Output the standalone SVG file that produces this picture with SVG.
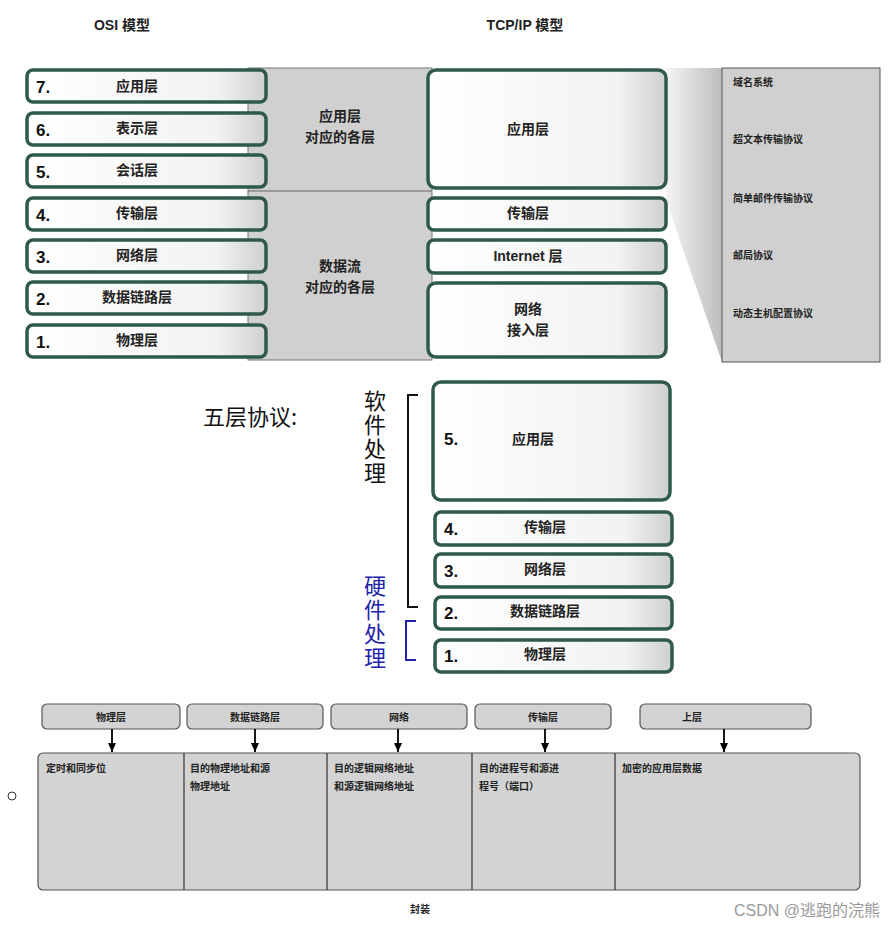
<svg xmlns="http://www.w3.org/2000/svg" width="895" height="927" viewBox="0 0 895 927">
<defs>
<linearGradient id="bg" x1="0" y1="0" x2="1" y2="0"><stop offset="0" stop-color="#ffffff"/><stop offset="0.8" stop-color="#f2f2f2"/><stop offset="1" stop-color="#cfcfcf"/></linearGradient>
<linearGradient id="wedge" x1="0" y1="0" x2="1" y2="0"><stop offset="0" stop-color="#f4f4f4"/><stop offset="1" stop-color="#bdbdbd"/></linearGradient>
<marker id="ar" markerWidth="10" markerHeight="10" refX="9" refY="4" orient="auto" markerUnits="userSpaceOnUse"><path d="M0,0 L9,4 L0,8 z" fill="#000"/></marker>
</defs>
<style>
.l{fill:url(#bg);stroke:#2f5a4a;stroke-width:3.5}
.t{font-family:"Liberation Sans","Noto Sans CJK SC",sans-serif;font-size:14px;font-weight:bold;fill:#222}
.s{font-family:"Liberation Sans","Noto Sans CJK SC",sans-serif;font-size:10px;font-weight:bold;fill:#222}
.n{font-family:"Liberation Sans",sans-serif;font-size:17px;font-weight:bold;fill:#111}
.g{fill:#d3d3d3;stroke:#555;stroke-width:1.2}
.c{text-anchor:middle}
.v{font-family:"Noto Sans CJK SC",sans-serif;font-size:22px;writing-mode:vertical-rl;letter-spacing:2px}
</style>
<rect width="895" height="927" fill="#fff"/>
<text class="t c" x="122" y="30">OSI 模型</text>
<text class="t c" x="525" y="30">TCP/IP 模型</text>
<g id="midpanel">
<rect x="248" y="68" width="184" height="292" fill="#d0d0d0" stroke="#777"/>
<line x1="248" y1="191" x2="432" y2="191" stroke="#666"/>
<text class="t c" x="340" y="121">应用层</text><text class="t c" x="340" y="142">对应的各层</text>
<text class="t c" x="340" y="271">数据流</text><text class="t c" x="340" y="292">对应的各层</text>
</g>
<g id="osi">
<rect class="l" x="27" y="70" width="239" height="32" rx="6"/><text class="n" x="36" y="93">7.</text><text class="t c" x="137" y="91">应用层</text>
<rect class="l" x="27" y="113" width="239" height="32" rx="6"/><text class="n" x="36" y="136">6.</text><text class="t c" x="137" y="133">表示层</text>
<rect class="l" x="27" y="155" width="239" height="32" rx="6"/><text class="n" x="36" y="178">5.</text><text class="t c" x="137" y="175">会话层</text>
<rect class="l" x="27" y="198" width="239" height="32" rx="6"/><text class="n" x="36" y="221">4.</text><text class="t c" x="137" y="218">传输层</text>
<rect class="l" x="27" y="240" width="239" height="32" rx="6"/><text class="n" x="36" y="263">3.</text><text class="t c" x="137" y="260">网络层</text>
<rect class="l" x="27" y="282" width="239" height="32" rx="6"/><text class="n" x="36" y="305">2.</text><text class="t c" x="137" y="302">数据链路层</text>
<rect class="l" x="27" y="325" width="239" height="32" rx="6"/><text class="n" x="36" y="348">1.</text><text class="t c" x="137" y="345">物理层</text>
</g>
<g id="wedge"><polygon points="666,68 722,68 722,362 666,200" fill="url(#wedge)"/></g>
<g id="tcp">
<rect class="l" x="428" y="70" width="238" height="118" rx="8"/><text class="t c" x="528" y="134">应用层</text>
<rect class="l" x="428" y="198" width="238" height="32" rx="6"/><text class="t c" x="528" y="218">传输层</text>
<rect class="l" x="428" y="240" width="238" height="33" rx="6"/><text class="t c" x="528" y="261">Internet 层</text>
<rect class="l" x="428" y="283" width="238" height="74" rx="8"/><text class="t c" x="528" y="314">网络</text><text class="t c" x="528" y="335">接入层</text>
</g>
<g id="protocols">
<rect x="722" y="68" width="158" height="294" fill="#d0d0d0" stroke="#555"/>
<text class="s" x="733" y="86">域名系统</text>
<text class="s" x="733" y="143">超文本传输协议</text>
<text class="s" x="733" y="202">简单邮件传输协议</text>
<text class="s" x="733" y="259">邮局协议</text>
<text class="s" x="733" y="317">动态主机配置协议</text>
</g>
<g id="five">
<text x="203" y="425" font-family="Noto Sans CJK SC,sans-serif" font-size="22" fill="#111">五层协议:</text>
<text class="v" x="375" y="390" fill="#111">软件处理</text>
<path d="M418,395 H408 V607 H418" fill="none" stroke="#111" stroke-width="2"/>
<text class="v" x="375" y="575" fill="#2222aa">硬件处理</text>
<path d="M416,621 H406 V660 H416" fill="none" stroke="#2222aa" stroke-width="2"/>
<rect class="l" x="433" y="382" width="237" height="118" rx="8"/><text class="n" x="444" y="445">5.</text><text class="t c" x="533" y="444">应用层</text>
<rect class="l" x="435" y="512" width="237" height="33" rx="6"/><text class="n" x="444" y="535">4.</text><text class="t c" x="545" y="532">传输层</text>
<rect class="l" x="435" y="554" width="237" height="33" rx="6"/><text class="n" x="444" y="577">3.</text><text class="t c" x="545" y="574">网络层</text>
<rect class="l" x="435" y="597" width="237" height="32" rx="6"/><text class="n" x="444" y="619">2.</text><text class="t c" x="545" y="616">数据链路层</text>
<rect class="l" x="435" y="640" width="237" height="32" rx="6"/><text class="n" x="444" y="662">1.</text><text class="t c" x="545" y="659">物理层</text>
</g>
<g id="encap">
<rect class="g" x="42" y="704" width="138" height="25" rx="5"/><text class="s c" x="111" y="721">物理层</text>
<rect class="g" x="187" y="704" width="136" height="25" rx="5"/><text class="s c" x="255" y="721">数据链路层</text>
<rect class="g" x="331" y="704" width="136" height="25" rx="5"/><text class="s c" x="399" y="721">网络</text>
<rect class="g" x="475" y="704" width="136" height="25" rx="5"/><text class="s c" x="543" y="721">传输层</text>
<rect class="g" x="640" y="704" width="171" height="25" rx="5"/><text class="s c" x="692" y="721">上层</text>
<rect class="g" x="38" y="753" width="822" height="137" rx="5"/>
<g stroke="#333" stroke-width="1.2"><line x1="184" y1="753" x2="184" y2="890"/><line x1="327" y1="753" x2="327" y2="890"/><line x1="472" y1="753" x2="472" y2="890"/><line x1="615" y1="753" x2="615" y2="890"/></g>
<text class="s" x="46" y="772">定时和同步位</text>
<text class="s" x="190" y="772">目的物理地址和源</text><text class="s" x="190" y="790">物理地址</text>
<text class="s" x="334" y="772">目的逻辑网络地址</text><text class="s" x="334" y="790">和源逻辑网络地址</text>
<text class="s" x="479" y="772">目的进程号和源进</text><text class="s" x="479" y="790">程号（端口）</text>
<text class="s" x="622" y="772">加密的应用层数据</text>
<text class="s c" x="420" y="913">封装</text>
<circle cx="12" cy="796" r="4" fill="none" stroke="#333"/>
</g>
<g id="connectors" stroke="#000" stroke-width="1.8">
<line x1="112" y1="729" x2="112" y2="752" marker-end="url(#ar)"/>
<line x1="255" y1="729" x2="255" y2="752" marker-end="url(#ar)"/>
<line x1="398" y1="729" x2="398" y2="752" marker-end="url(#ar)"/>
<line x1="545" y1="729" x2="545" y2="752" marker-end="url(#ar)"/>
<line x1="724" y1="729" x2="724" y2="752" marker-end="url(#ar)"/>
</g>
<text x="880" y="916" text-anchor="end" font-family="Liberation Sans,Noto Sans CJK SC,sans-serif" font-size="16" fill="#999">CSDN @逃跑的浣熊</text>
</svg>
